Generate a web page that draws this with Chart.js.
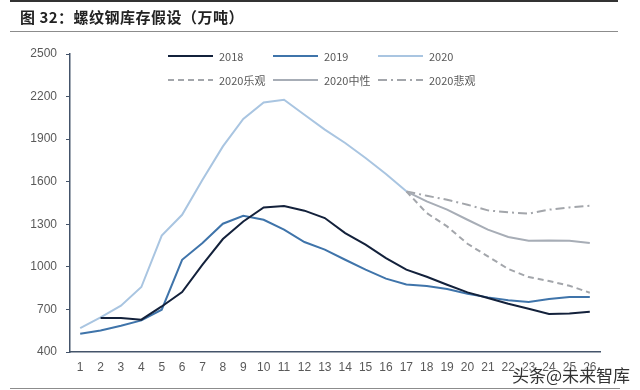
<!DOCTYPE html>
<html>
<head>
<meta charset="utf-8">
<script src="https://cdn.jsdelivr.net/npm/chart.js@4/dist/chart.umd.min.js"></script>
<style>
  html, body { margin: 0; padding: 0; background: #fff; }
  #wrap { position: relative; width: 640px; height: 390px; overflow: hidden; }
  #chart { position: absolute; left: 0; top: 0; }
  .rule { position: absolute; left: 10px; width: 608px; }
  #title {
    position: absolute; left: 20px; top: 6px;
    font: bold 15px "Noto Sans CJK SC", "Liberation Sans", sans-serif;
    color: #222; letter-spacing: 0.5px;
  }
  #mark {
    position: absolute; left: 512px; top: 362px;
    font: 17px "Noto Sans CJK SC", sans-serif; color: #333;
    text-shadow: 0 0 2px #fff, 0 0 2px #fff, 0 0 3px #fff;
  }
</style>
</head>
<body>
<div id="wrap">
  <canvas id="chart" width="640" height="390"></canvas>
  <div class="rule" style="top:0;height:2px;background:#333;"></div>
  <div id="title">图 32：螺纹钢库存假设（万吨）</div>
  <div class="rule" style="top:31px;height:1px;background:#8c8c8c;"></div>
  <div class="rule" style="top:388px;height:1px;background:#8c8c8c;width:610px;"></div>
  <div id="mark">头条@未来智库</div>
</div>
<script>
// weeks 1..26
const weeks = ['1','2','3','4','5','6','7','8','9','10','11','12','13','14','15','16','17','18','19','20','21','22','23','24','25','26'];
const yTicks = [400, 700, 1000, 1300, 1600, 1900, 2200, 2500];

const s2018 = [null, 640, 640, 628, 721, 823, 1015, 1196, 1320, 1419, 1429, 1396, 1344, 1238, 1156, 1062, 980, 930, 874, 820, 780, 740, 705, 668, 672, 684];
const s2019 = [529, 552, 585, 623, 698, 1050, 1168, 1304, 1360, 1332, 1262, 1175, 1121, 1050, 980, 917, 876, 865, 844, 811, 785, 764, 752, 773, 787, 787];
const s2020 = [569, 644, 726, 858, 1220, 1367, 1614, 1849, 2042, 2159, 2178, 2072, 1967, 1873, 1767, 1655, 1532];
const optimistic = [null, null, null, null, null, null, null, null, null, null, null, null, null, null, null, null, 1532, 1379, 1285, 1163, 1074, 985, 928, 900, 867, 818];
const neutral = [null, null, null, null, null, null, null, null, null, null, null, null, null, null, null, null, 1532, 1461, 1403, 1332, 1262, 1210, 1184, 1186, 1184, 1168];
const pessimistic = [null, null, null, null, null, null, null, null, null, null, null, null, null, null, null, null, 1532, 1501, 1473, 1438, 1398, 1384, 1375, 1403, 1419, 1431];

const seriesNames = ['2018', '2019', '2020', '2020乐观', '2020中性', '2020悲观'];

// legend drawn at fixed spots, 3 per row like the original
const legendPlugin = {
    id: 'gridLegend',
    afterDraw(chart) {
        const ctx = chart.ctx;
        const cols = [168, 273, 378];
        const rows = [56, 80];
        ctx.save();
        ctx.font = '11px "Noto Sans CJK SC", sans-serif';
        ctx.textBaseline = 'middle';
        chart.data.datasets.forEach((ds, i) => {
            const x = cols[i % 3];
            const y = rows[Math.floor(i / 3)];
            ctx.beginPath();
            ctx.strokeStyle = ds.borderColor;
            ctx.lineWidth = ds.borderWidth;
            ctx.setLineDash(ds.borderDash || []);
            ctx.moveTo(x, y);
            ctx.lineTo(x + 45, y);
            ctx.stroke();
            ctx.setLineDash([]);
            ctx.fillStyle = '#595959';
            ctx.fillText(ds.label, x + 51, y + 0.5);
        });
        ctx.restore();
    }
};

const ctx = document.getElementById('chart').getContext('2d');
new Chart(ctx, {
    type: 'line',
    data: {
        labels: weeks,
        datasets: [
            { label: seriesNames[0], data: s2018, borderColor: '#13213b', borderWidth: 2 },
            { label: seriesNames[1], data: s2019, borderColor: '#3f74aa', borderWidth: 2 },
            { label: seriesNames[2], data: s2020, borderColor: '#a9c5e1', borderWidth: 2 },
            { label: seriesNames[3], data: optimistic, borderColor: '#a3a6ab', borderWidth: 2, borderDash: [6, 4] },
            { label: seriesNames[4], data: neutral, borderColor: '#a7adb6', borderWidth: 2 },
            { label: seriesNames[5], data: pessimistic, borderColor: '#a3a6ab', borderWidth: 2, borderDash: [9, 4, 2, 4] }
        ]
    },
    options: {
        responsive: false,
        animation: false,
        events: [],
        elements: {
            point: { radius: 0 },
            line: { tension: 0, fill: false }
        },
        layout: {
            padding: { left: 0, right: 40, top: 54, bottom: 0 }
        },
        plugins: {
            legend: { display: false },
            title: { display: false },
            tooltip: { enabled: false }
        },
        scales: {
            x: {
                offset: true,
                afterFit: (scale) => { scale.height = 38; },
                grid: { display: false, drawTicks: false },
                border: { display: true, color: '#44546a', width: 1.5 },
                ticks: {
                    padding: 8,
                    maxRotation: 0,
                    autoSkip: false,
                    color: '#595959',
                    font: { family: '"Liberation Sans", Arial, sans-serif', size: 12 }
                }
            },
            y: {
                min: 400,
                max: 2500,
                afterFit: (scale) => { scale.width = 70; },
                afterBuildTicks: (scale) => { scale.ticks = yTicks.map(v => ({ value: v })); },
                grid: { drawOnChartArea: false, drawTicks: true, tickLength: 4, color: '#44546a' },
                border: { display: true, color: '#44546a', width: 1.5 },
                ticks: {
                    padding: 9,
                    color: '#595959',
                    font: { family: '"Liberation Sans", Arial, sans-serif', size: 12 },
                    callback: (v) => String(v)
                }
            }
        }
    },
    plugins: [legendPlugin]
});
</script>
</body>
</html>
